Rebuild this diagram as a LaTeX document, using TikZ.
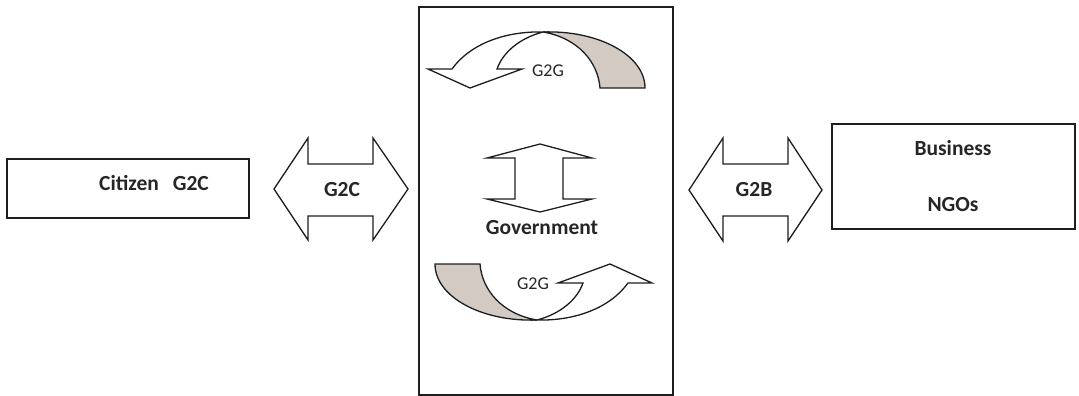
\documentclass[tikz,border=0pt]{standalone}
\usepackage{fontspec}
\setmainfont{Carlito}
\definecolor{ribbongray}{RGB}{210,202,195}
\definecolor{edge}{RGB}{30,30,30}
\begin{document}
\begin{tikzpicture}[x=1pt,y=-1pt,
  box/.style={draw=edge,line width=1.4pt},
  shapeline/.style={draw=edge,line width=1.3pt,line join=miter},
  boldtxt/.style={font=\fontsize{21.5}{25}\selectfont\bfseries,inner sep=0pt,anchor=base,text=black!85},
  g2gtxt/.style={font=\fontsize{18}{22}\selectfont,inner sep=0pt,anchor=base,text=black!85}]
\useasboundingbox (0,0) rectangle (1079,396);
% boxes
\draw[box] (7,159) rectangle (249,218);
\draw[box] (419,7) rectangle (673,395);
\draw[box] (832,124) rectangle (1075,229);
% G2C double arrow
\draw[shapeline,fill=white] (274,189) -- (308,138) -- (308,164) -- (373,164) -- (373,138) -- (408,189)
  -- (373,240) -- (373,216) -- (308,216) -- (308,240) -- cycle;
% G2B double arrow
\draw[shapeline,fill=white] (689,190) -- (723,138) -- (723,164) -- (788,164) -- (788,138) -- (822,190)
  -- (788,241) -- (788,216) -- (723,216) -- (723,241) -- cycle;
% vertical double arrow
\draw[shapeline,fill=white] (540,144) -- (592,158) -- (563,158) -- (563,199) -- (592,199) -- (540,212)
  -- (487,199) -- (515,199) -- (515,158) -- (487,158) -- cycle;
% curved G2G arrows (top, and bottom as point reflection)
\foreach \r in {0,180}{
\begin{scope}[rotate around={\r:(540,176)}]
\draw[shapeline,fill=ribbongray] (543,32) .. controls (598,30) and (645,55) .. (645,88)
  -- (600,88) .. controls (598,62) and (578,38) .. (543,32);
\draw[shapeline,fill=white] (452,69) .. controls (470,44) and (505,31) .. (543,32)
  .. controls (520,38) and (503,52) .. (497,69) -- (522,69) -- (470,88) -- (428,69) -- cycle;
\end{scope}}
% texts
\node[boldtxt] (citizen) at (154,190) {Citizen\hspace{14pt}G2C};
\node[boldtxt] (g2c) at (342,196) {G2C};
\node[boldtxt] (g2b) at (754,196) {G2B};
\node[boldtxt] (gov) at (542,234) {Government};
\node[boldtxt] (bus) at (953,155) {Business};
\node[boldtxt] (ngo) at (953,211) {NGOs};
\node[g2gtxt] (g2gtop) at (548,77) {G2G};
\node[g2gtxt] (g2gbot) at (533,289) {G2G};
\end{tikzpicture}
\end{document}
